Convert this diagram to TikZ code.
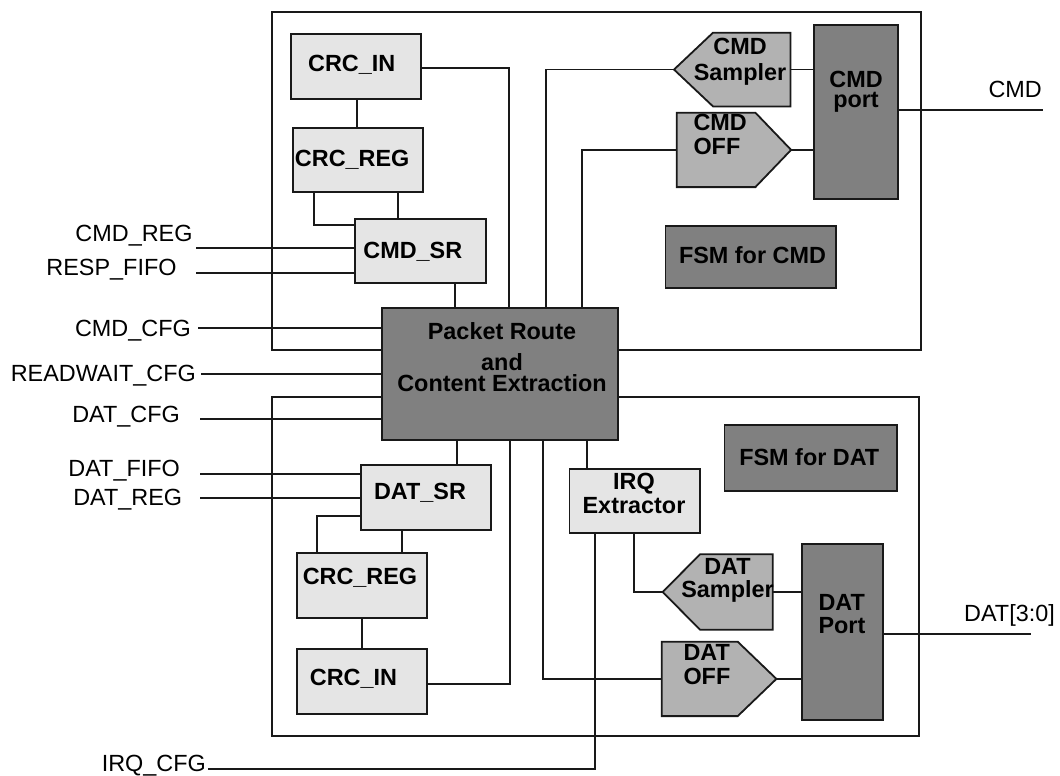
\documentclass[tikz,border=0pt]{standalone}
\usepackage{fontspec}
\setmainfont{Liberation Sans}
\usetikzlibrary{calc}
\definecolor{lightbox}{gray}{0.90}
\definecolor{midbox}{gray}{0.70}
\definecolor{darkbox}{gray}{0.50}
\definecolor{ink}{gray}{0.10}
\begin{document}
\begin{tikzpicture}[x=1pt,y=-1pt,
  wire/.style={draw=ink, line width=1.8pt},
  framebox/.style={draw=ink, line width=1.8pt, rectangle, inner sep=0pt, anchor=north west},
  lbox/.style={draw=ink, fill=lightbox, line width=1.8pt, rectangle, inner sep=0pt, anchor=north west},
  dbox/.style={lbox, fill=darkbox},
  pentbase/.style={rectangle, inner sep=0pt, anchor=north west},
  pentfill/.style={draw=ink, fill=midbox, line width=1.8pt, line join=miter},
  sig/.style={font=\fontsize{23.4pt}{24pt}\selectfont, inner sep=0pt},
  btxt/.style={font=\fontsize{23.4pt}{24pt}\selectfont\bfseries, inner sep=0pt},
]
\useasboundingbox[fill=white] (0,0) rectangle (1060,776);

% frames
\node[framebox, minimum width=649pt, minimum height=338pt] (ftop) at (271,11) {};
\node[framebox, minimum width=647pt, minimum height=339pt] (fbot) at (271,396) {};

% boxes
\node[lbox, minimum width=130pt, minimum height=65pt] (crcin1) at (290,33) {};
\node[lbox, minimum width=130pt, minimum height=64pt] (crcreg1) at (292,127) {};
\node[lbox, minimum width=131pt, minimum height=64pt] (cmdsr) at (354,218) {};
\node[dbox, minimum width=236pt, minimum height=132pt] (pkt) at (381,307) {};
\node[dbox, minimum width=84.6pt, minimum height=174pt] (cmp) at (812.7,24) {};
\node[dbox, minimum width=170.7pt, minimum height=62.3pt] (fsmc) at (664.5,224.7) {};
\node[lbox, minimum width=130pt, minimum height=65pt] (datsr) at (360,464) {};
\node[lbox, minimum width=130pt, minimum height=65pt] (crcreg2) at (296,552) {};
\node[lbox, minimum width=130pt, minimum height=65pt] (crcin2) at (296,648) {};
\node[lbox, minimum width=130.4pt, minimum height=64pt] (irq) at (568.6,468) {};
\node[dbox, minimum width=81pt, minimum height=176pt] (dtp) at (801,543) {};
\node[dbox, minimum width=172.9pt, minimum height=66.3pt] (fsmd) at (723.5,423.7) {};

% pentagon shapes
\node[pentbase, minimum width=116pt, minimum height=73.3pt] (cms) at (674,32.7) {};
\draw[pentfill] (cms.north east) -- ([xshift=39pt]cms.north west) -- (cms.west)
  -- ([xshift=39pt]cms.south west) -- (cms.south east) -- cycle;
\node[pentbase, minimum width=114pt, minimum height=74pt] (cmo) at (676.7,112.7) {};
\draw[pentfill] (cmo.north west) -- ([xshift=-35.7pt]cmo.north east) -- (cmo.east)
  -- ([xshift=-35.7pt]cmo.south east) -- (cmo.south west) -- cycle;
\node[pentbase, minimum width=109.6pt, minimum height=75pt] (dts) at (662.7,554.3) {};
\draw[pentfill] (dts.north east) -- ([xshift=37.3pt]dts.north west) -- (dts.west)
  -- ([xshift=37.3pt]dts.south west) -- (dts.south east) -- cycle;
\node[pentbase, minimum width=114.3pt, minimum height=74pt] (dto) at (661.7,641.7) {};
\draw[pentfill] (dto.north west) -- ([xshift=-38.7pt]dto.north east) -- (dto.east)
  -- ([xshift=-38.7pt]dto.south east) -- (dto.south west) -- cycle;

% free ends
\coordinate (cmdregin) at (196,247.7);
\coordinate (respin) at (196,272.7);
\coordinate (cmdcfgin) at (198,327.7);
\coordinate (rwin) at (201,374.3);
\coordinate (datcfgin) at (200,419);
\coordinate (datfifoin) at (200,474.3);
\coordinate (datregin) at (200,497.7);
\coordinate (irqcfgin) at (207.5,769.3);
\coordinate (cmdout) at (1043,110);
\coordinate (datout) at (1031,634);

% connectors, top part
\draw[wire] (crcin1.south -| 357,0) -- (crcreg1.north -| 357,0);
\draw[wire] (crcreg1.south -| 314,0) |- (cmdsr.west |- 0,225);
\draw[wire] (crcreg1.south -| 398,0) -- (cmdsr.north -| 398,0);
\draw[wire] (cmdregin) -- (cmdsr.west |- cmdregin);
\draw[wire] (respin) -- (cmdsr.west |- respin);
\draw[wire] (cmdsr.south -| 455,0) -- (pkt.north -| 455,0);
\draw[wire] (crcin1.east |- 0,68) -| (pkt.north -| 509,0);
\draw[wire] (pkt.north -| 546,0) |- (cms.west);
\draw[wire] (pkt.north -| 582,0) |- (cmo.west);
\draw[wire] (cms.east) -- (cms.east -| cmp.west);
\draw[wire] (cmo.east) -- (cmo.east -| cmp.west);
\draw[wire] (cmp.east |- cmdout) -- (cmdout);
\draw[wire] (cmdcfgin) -- (pkt.west |- cmdcfgin);
\draw[wire] (rwin) -- (pkt.west |- rwin);
\draw[wire] (datcfgin) -- (pkt.west |- datcfgin);

% connectors, bottom part
\draw[wire] (pkt.south -| 457,0) -- (datsr.north -| 457,0);
\draw[wire] (datfifoin) -- (datsr.west |- datfifoin);
\draw[wire] (datregin) -- (datsr.west |- datregin);
\draw[wire] (datsr.west |- 0,516) -| (crcreg2.north -| 317,0);
\draw[wire] (datsr.south -| 402,0) -- (crcreg2.north -| 402,0);
\draw[wire] (crcreg2.south -| 362,0) -- (crcin2.north -| 362,0);
\draw[wire] (crcin2.east |- 0,683.7) -| (pkt.south -| 510,0);
\draw[wire] (pkt.south -| 542.7,0) |- (dto.west);
\draw[wire] (pkt.south -| 586.8,0) -- (irq.north -| 586.8,0);
\draw[wire] (irq.south -| 595,0) |- (irqcfgin);
\draw[wire] (irq.south -| 634,0) |- (dts.west);
\draw[wire] (dts.east) -- (dts.east -| dtp.west);
\draw[wire] (dto.east) -- (dto.east -| dtp.west);
\draw[wire] (dtp.east |- datout) -- (datout);

% signal labels
\node[sig, anchor=base east] (lcmdreg) at (192.7,241) {CMD\_REG};
\node[sig, anchor=base east] (lresp) at (176.7,275.7) {RESP\_FIFO};
\node[sig, anchor=base east] (lcmdcfg) at (191,336) {CMD\_CFG};
\node[sig, anchor=base east] (lrw) at (196,381.7) {READWAIT\_CFG};
\node[sig, anchor=base east] (ldatcfg) at (180,422.3) {DAT\_CFG};
\node[sig, anchor=base east] (ldatfifo) at (180,476) {DAT\_FIFO};
\node[sig, anchor=base east] (ldatreg) at (182.3,505.7) {DAT\_REG};
\node[sig, anchor=base east] (lirqcfg) at (206,771) {IRQ\_CFG};
\node[sig, anchor=base east] (lcmd) at (1042,97.3) {CMD};
\node[sig, anchor=base east] (ldat) at (1055,621.5) {DAT[3:0]};

% box texts
\node[btxt, anchor=base] (tcrcin1) at (351.7,71) {CRC\_IN};
\node[btxt, anchor=base] (tcrcreg1) at (352.2,166.7) {CRC\_REG};
\node[btxt, anchor=base] (tcmdsr) at (412.8,258.3) {CMD\_SR};
\node[btxt, align=center, anchor=north] (tpkt) at (502,322.6) {Packet Route\\[6.7pt]and\\[-3pt]Content Extraction};
\node[btxt, align=center, anchor=north] (tcms) at (740,37.5) {CMD\\[2.4pt]Sampler};
\node[btxt, align=left, anchor=north west] (tcmo) at (693.3,113.5) {CMD\\[0.7pt]OFF};
\node[btxt, align=center, anchor=north] (tcmp) at (856,70.5) {CMD\\[-4pt]port};
\node[btxt, anchor=base] (tfsmc) at (752.5,263) {FSM for CMD};
\node[btxt, anchor=base] (tfsmd) at (809.3,465) {FSM for DAT};
\node[btxt, anchor=base] (tdatsr) at (420,499) {DAT\_SR};
\node[btxt, anchor=base] (tcrcreg2) at (360,584.3) {CRC\_REG};
\node[btxt, anchor=base] (tcrcin2) at (353.5,685) {CRC\_IN};
\node[btxt, align=center, anchor=north] (tirq) at (634,472.5) {IRQ\\Extractor};
\node[btxt, align=center, anchor=north] (tdts) at (727.5,558.2) {DAT\\[-1.3pt]Sampler};
\node[btxt, align=left, anchor=north west] (tdto) at (683.3,643.9) {DAT\\[0.3pt]OFF};
\node[btxt, align=left, anchor=north west] (tdtp) at (818.3,594.2) {DAT\\[-1pt]Port};
\end{tikzpicture}
\end{document}
